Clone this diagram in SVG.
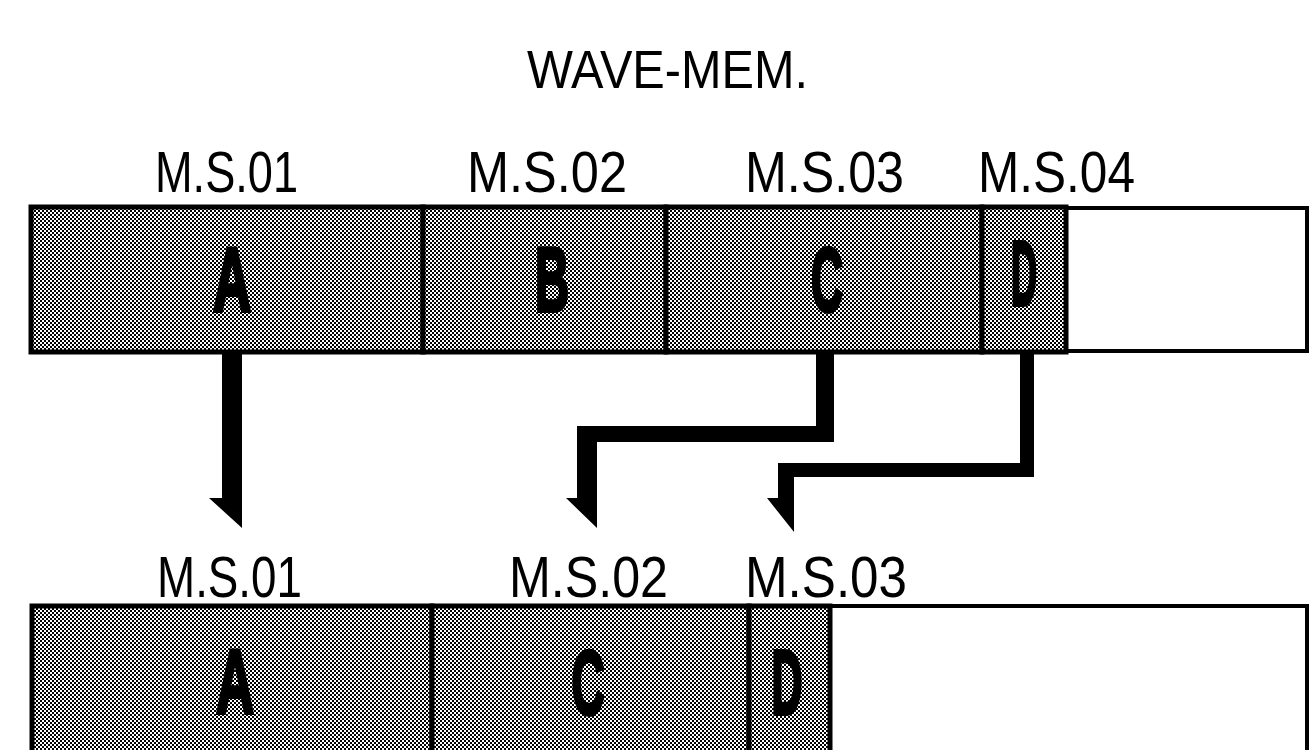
<svg xmlns="http://www.w3.org/2000/svg" width="1311" height="750" viewBox="0 0 1311 750">
<defs>
<pattern id="dither" width="4" height="4" patternUnits="userSpaceOnUse">
<rect width="4" height="4" fill="#ffffff"/>
<rect x="0" y="0" width="2" height="2" fill="#000"/>
<rect x="2" y="2" width="2" height="2" fill="#000"/>
</pattern>
</defs>
<style>
.lbl{font-family:"Liberation Sans",Arial,sans-serif;font-size:57px;fill:#000;}
.ttl{font-family:"Liberation Sans",Arial,sans-serif;font-size:53px;fill:#000;}
.big{font-family:"Liberation Sans",Arial,sans-serif;font-weight:bold;font-size:90px;fill:#000;stroke:#000;stroke-width:4;text-anchor:middle;}
.cell{fill:url(#dither);stroke:#000;stroke-width:5;}
.empty{fill:#fff;stroke:#000;stroke-width:4;}
.arrow{fill:#000;}
</style>
<rect width="1311" height="750" fill="#fff"/>
<text class="ttl" x="527" y="88" textLength="281" lengthAdjust="spacingAndGlyphs">WAVE-MEM.</text>

<g id="top-labels">
<text class="lbl" x="155" y="192" textLength="143" lengthAdjust="spacingAndGlyphs">M.S.01</text>
<text class="lbl" x="467" y="192" textLength="160" lengthAdjust="spacingAndGlyphs">M.S.02</text>
<text class="lbl" x="745" y="192" textLength="159" lengthAdjust="spacingAndGlyphs">M.S.03</text>
<text class="lbl" x="978" y="192" textLength="157" lengthAdjust="spacingAndGlyphs">M.S.04</text>
</g>

<g id="top-empty"><rect class="empty" x="1066" y="208" width="241" height="143"/></g>
<g id="top-A"><rect class="cell" x="31" y="207" width="392" height="145"/>
<text class="big" x="232" y="311" textLength="38" lengthAdjust="spacingAndGlyphs">A</text></g>
<g id="top-B"><rect class="cell" x="423" y="207" width="243" height="145"/>
<text class="big" x="552" y="311" textLength="34" lengthAdjust="spacingAndGlyphs">B</text></g>
<g id="top-C"><rect class="cell" x="666" y="207" width="316" height="145"/>
<text class="big" x="827" y="311" textLength="32" lengthAdjust="spacingAndGlyphs">C</text></g>
<g id="top-D"><rect class="cell" x="982" y="207" width="84" height="145"/>
<text class="big" x="1024" y="305" textLength="26" lengthAdjust="spacingAndGlyphs">D</text></g>

<g id="connectors">
<path class="arrow" d="M222,352 H242 V528 L209,498 H222 Z"/>
<path class="arrow" d="M816,352 H834 V442 H597 V528 L566,498 H577 V426 H816 Z"/>
<path class="arrow" d="M1020,352 H1034 V477 H794 V532 L767,498 H778 V463 H1020 Z"/>
</g>

<g id="bottom-labels">
<text class="lbl" x="157" y="597" textLength="145" lengthAdjust="spacingAndGlyphs">M.S.01</text>
<text class="lbl" x="509" y="597" textLength="159" lengthAdjust="spacingAndGlyphs">M.S.02</text>
<text class="lbl" x="745" y="597" textLength="162" lengthAdjust="spacingAndGlyphs">M.S.03</text>
</g>

<g id="bottom-empty"><rect class="empty" x="830" y="606" width="477" height="160"/></g>
<g id="bottom-A"><rect class="cell" x="32" y="606" width="400" height="160"/>
<text class="big" x="235" y="713" textLength="38" lengthAdjust="spacingAndGlyphs">A</text></g>
<g id="bottom-C"><rect class="cell" x="432" y="606" width="317" height="160"/>
<text class="big" x="588" y="714" textLength="33" lengthAdjust="spacingAndGlyphs">C</text></g>
<g id="bottom-D"><rect class="cell" x="749" y="606" width="81" height="160"/>
<text class="big" x="787" y="714" textLength="31" lengthAdjust="spacingAndGlyphs">D</text></g>
</svg>
